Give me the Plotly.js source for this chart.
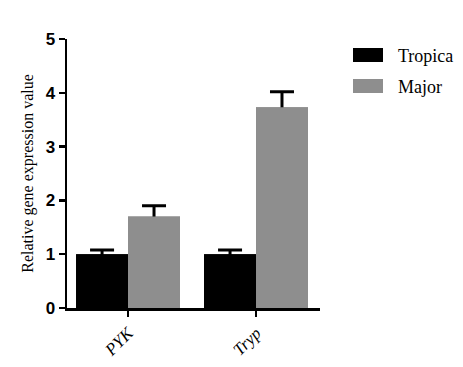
<!DOCTYPE html>
<html>
<head>
<meta charset="utf-8">
<script src="https://cdn.plot.ly/plotly-3.0.1.min.js"></script>
<style>html,body{margin:0;padding:0;background:#fff;}#chart{width:463px;height:367px;}</style>
</head>
<body>
<div id="chart"></div>
<script>
const categories = ["PYK", "Tryp"];
const tickLabels = ["<i>PYK</i>", "<i>Tryp</i>"];
const seriesNames = ["Tropica", "Major"];
const tropicaValues = [1.0, 1.0];
const tropicaErrors = [0.08, 0.08];
const majorValues = [1.70, 3.73];
const majorErrors = [0.20, 0.29];
const yTicks = [0, 1, 2, 3, 4, 5];

const colors = ["#000000", "#8e8e8e"];
const barW = 0.406;
const offsets = [-barW, 0];
const series = [
  {values: tropicaValues, errors: tropicaErrors},
  {values: majorValues, errors: majorErrors}
];

const traces = [];
// bars with upward error bars
series.forEach((s, i) => {
  traces.push({type: "bar", name: seriesNames[i], x: categories, y: s.values,
    offset: offsets[i], width: barW,
    marker: {color: colors[i], line: {width: 0}},
    error_y: {type: "data", array: s.errors, symmetric: false,
      arrayminus: s.values.map(() => 0.1), color: "#000", thickness: 3, width: 12},
    showlegend: false, hoverinfo: "skip"});
});
// same bars again on top, hiding the lower half of each error bar
series.forEach((s, i) => {
  traces.push({type: "bar", name: seriesNames[i], x: categories, y: s.values,
    offset: offsets[i], width: barW,
    marker: {color: colors[i], line: {width: 0}},
    showlegend: false});
});

const legendShapes = [];
const legendAnn = [];
const legY = [[48, 62], [79, 93]];
const textY = [56, 87];
seriesNames.forEach((n, i) => {
  legendShapes.push({type: "rect", xref: "paper", yref: "paper",
    x0: (353 - 67) / 253, x1: (383 - 67) / 253,
    y0: (308 - legY[i][1]) / 269, y1: (308 - legY[i][0]) / 269,
    fillcolor: colors[i], line: {width: 0}});
  legendAnn.push({xref: "paper", yref: "paper", x: (396 - 67) / 253, y: (308 - textY[i]) / 269,
    xanchor: "left", yanchor: "middle", text: n, showarrow: false,
    font: {family: "Liberation Serif, Times New Roman, serif", size: 18, color: "#000"}});
});

const layout = {
  width: 463, height: 367,
  margin: {l: 67, r: 143, t: 39, b: 59},
  paper_bgcolor: "#fff", plot_bgcolor: "#fff",
  barmode: "overlay",
  showlegend: false,
  xaxis: {
    type: "category", range: [-0.477, 1.5],
    tickvals: categories, ticktext: tickLabels,
    tickangle: -45,
    showline: true, linecolor: "#000", linewidth: 2.5,
    ticks: "outside", ticklen: 6, tickwidth: 2.5, tickcolor: "#000",
    showgrid: false, zeroline: false,
    tickfont: {family: "Liberation Serif, Times New Roman, serif", size: 17, color: "#000"}
  },
  yaxis: {
    range: [0, 5], tickvals: yTicks,
    showline: true, linecolor: "#000", linewidth: 2.5,
    ticks: "outside", ticklen: 6, tickwidth: 2.5, tickcolor: "#000",
    showgrid: false, zeroline: false,
    tickfont: {family: "Liberation Sans, Arial, sans-serif", size: 17, color: "#000", weight: "bold"},
    title: {text: "Relative gene expression value", standoff: 8,
      font: {family: "Liberation Serif, Times New Roman, serif", size: 16, color: "#000"}}
  },
  shapes: legendShapes,
  annotations: legendAnn
};

Plotly.newPlot("chart", traces, layout, {displayModeBar: false, staticPlot: true});
</script>
</body>
</html>
